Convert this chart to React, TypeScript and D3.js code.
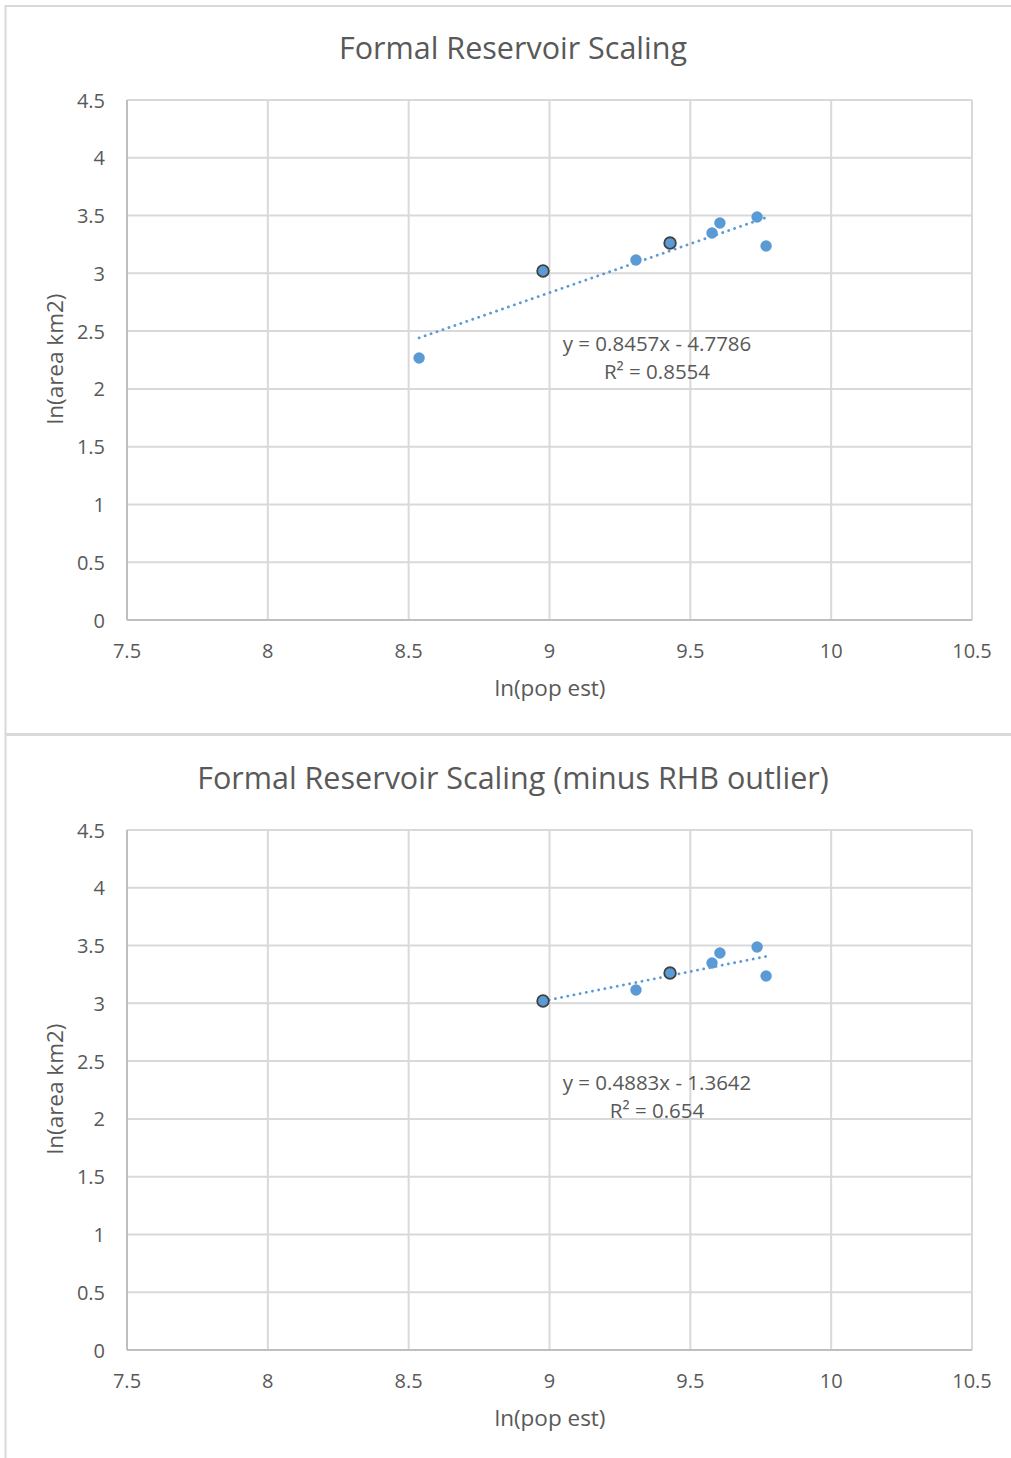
import React from "react";
import * as d3 from "d3";

const xTicks = [7.5, 8, 8.5, 9, 9.5, 10, 10.5];
const yTicks = [0, 0.5, 1, 1.5, 2, 2.5, 3, 3.5, 4, 4.5];

const popAll = [8.537, 8.977, 9.307, 9.428, 9.577, 9.605, 9.737, 9.769];
const areaAll = [2.267, 3.02, 3.115, 3.262, 3.349, 3.435, 3.487, 3.236];
const outlinedAll = [false, true, false, true, false, false, false, false];

const popNoRHB = [8.977, 9.307, 9.428, 9.577, 9.605, 9.737, 9.769];
const areaNoRHB = [3.02, 3.115, 3.262, 3.349, 3.435, 3.487, 3.236];
const outlinedNoRHB = [true, false, true, false, false, false, false];

const titles = ["Formal Reservoir Scaling", "Formal Reservoir Scaling (minus RHB outlier)"];
const slopes = [0.8457, 0.4883];
const intercepts = [-4.7786, -1.3642];
const eqLabels = ["y = 0.8457x - 4.7786", "y = 0.4883x - 1.3642"];
const r2Labels = ["R² = 0.8554", "R² = 0.654"];

const FONT = "'Open Sans', sans-serif";
const TXT = "#595959";
const BLUE = "#5B9BD5";

function Chart({ offsetY, idx, xs, ys, outlined }: any) {
  const x = d3.scaleLinear().domain([7.5, 10.5]).range([127, 972]);
  const y = d3.scaleLinear().domain([0, 4.5]).range([620, 100]);
  const xMin = d3.min(xs) as number;
  const xMax = d3.max(xs) as number;
  const m = slopes[idx];
  const b = intercepts[idx];
  const line = d3.line<number>().x((d) => x(d)).y((d) => y(m * d + b));
  const eqX = 657;
  const eqY = idx === 0 ? 343 : 1082 - 730;
  return (
    <g transform={`translate(0,${offsetY})`}>
      <text x={513} y={47} textAnchor="middle" dominantBaseline="central" fontFamily={FONT} fontSize={30.5} fill={TXT}>
        {titles[idx]}
      </text>
      {xTicks.map((t) => (
        <line key={"gx" + t} x1={x(t)} x2={x(t)} y1={y(0)} y2={y(4.5)} stroke="#d9d9d9" strokeWidth={2} />
      ))}
      {yTicks.map((t) => (
        <line key={"gy" + t} x1={x(7.5)} x2={x(10.5)} y1={y(t)} y2={y(t)} stroke="#d9d9d9" strokeWidth={2} />
      ))}
      <line x1={x(7.5)} x2={x(7.5)} y1={y(0)} y2={y(4.5)} stroke="#bfbfbf" strokeWidth={2} />
      <line x1={x(7.5)} x2={x(10.5)} y1={y(0)} y2={y(0)} stroke="#bfbfbf" strokeWidth={2} />
      {yTicks.map((t) => (
        <text key={"ty" + t} x={105} y={y(t)} textAnchor="end" dominantBaseline="central" fontFamily={FONT} fontSize={20} fill={TXT}>
          {String(t)}
        </text>
      ))}
      {xTicks.map((t) => (
        <text key={"tx" + t} x={x(t)} y={650} textAnchor="middle" dominantBaseline="central" fontFamily={FONT} fontSize={20} fill={TXT}>
          {String(t)}
        </text>
      ))}
      <text x={550} y={687} textAnchor="middle" dominantBaseline="central" fontFamily={FONT} fontSize={22.5} fill={TXT}>
        ln(pop est)
      </text>
      <text transform={`translate(54,359) rotate(-90)`} textAnchor="middle" dominantBaseline="central" fontFamily={FONT} fontSize={22.5} fill={TXT}>
        ln(area km2)
      </text>
      <path d={line([xMin, xMax]) as string} fill="none" stroke={BLUE} strokeWidth={2.8} strokeDasharray="0.1 6.2" strokeLinecap="round" />
      {xs.map((v: number, i: number) => (
        <circle key={"p" + i} cx={x(v)} cy={y(ys[i])} r={outlined[i] ? 5.8 : 5.7} fill={BLUE} stroke={outlined[i] ? "#404040" : "none"} strokeWidth={outlined[i] ? 1.8 : 0} />
      ))}
      <text x={eqX} y={eqY} textAnchor="middle" dominantBaseline="central" fontFamily={FONT} fontSize={20.5} fill={TXT}>
        {eqLabels[idx]}
      </text>
      <text x={eqX} y={eqY + 28} textAnchor="middle" dominantBaseline="central" fontFamily={FONT} fontSize={20.5} fill={TXT}>
        {r2Labels[idx]}
      </text>
    </g>
  );
}

export default function App() {
  return (
    <svg width={1011} height={1458} style={{ position: "absolute", left: 0, top: 0, background: "#fff" }}>
      <rect x={0} y={0} width={1011} height={1458} fill="#fff" />
      <rect x={5.5} y={6} width={1020} height={728} fill="none" stroke="#d9d9d9" strokeWidth={2} />
      <rect x={5.5} y={735} width={1020} height={740} fill="none" stroke="#d9d9d9" strokeWidth={2} />
      <Chart offsetY={0} idx={0} xs={popAll} ys={areaAll} outlined={outlinedAll} />
      <Chart offsetY={730} idx={1} xs={popNoRHB} ys={areaNoRHB} outlined={outlinedNoRHB} />
    </svg>
  );
}
